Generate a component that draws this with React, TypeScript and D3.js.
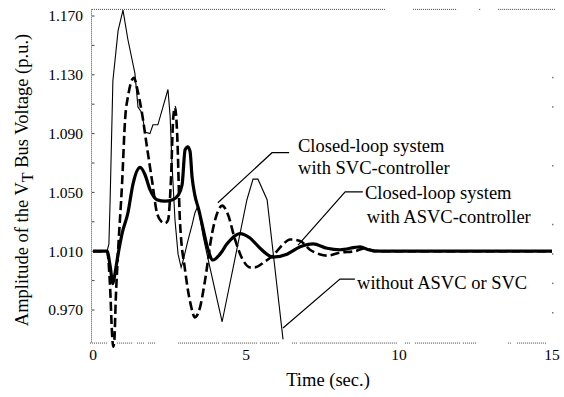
import React, { useEffect, useRef } from "react";
import * as d3 from "d3";

// Time axis (sec.) and voltage axis (p.u.)
const timeTicks = [0, 5, 10, 15];
const voltTicks = [0.97, 1.01, 1.05, 1.09, 1.13, 1.17];
const minorVoltTicks = [0.97, 0.99, 1.01, 1.03, 1.05, 1.07, 1.09, 1.11, 1.13, 1.15, 1.17];
const rightVoltDots = [0.97, 0.99, 1.01, 1.03, 1.07, 1.11, 1.13];

// Closed-loop system with ASVC-controller (thick solid)
const asvcSeries: [number, number][] = [
  [0, 1.01], [0.46, 1.01], [0.56, 1.0], [0.65, 0.988], [0.72, 0.995], [0.82, 1.008],
  [0.95, 1.022], [1.14, 1.036], [1.31, 1.056], [1.54, 1.067], [1.7, 1.062], [1.86, 1.052],
  [2.09, 1.045], [2.35, 1.044], [2.6, 1.045], [2.78, 1.048], [2.91, 1.055], [3.01, 1.079],
  [3.1, 1.081], [3.17, 1.078], [3.24, 1.06], [3.33, 1.048], [3.46, 1.038], [3.6, 1.025],
  [3.76, 1.011], [3.92, 1.004], [4.15, 1.008], [4.38, 1.015], [4.8, 1.022], [5.13, 1.019],
  [5.46, 1.012], [5.88, 1.006], [6.34, 1.008], [6.77, 1.013], [7.19, 1.015], [7.65, 1.012],
  [8.07, 1.011], [8.73, 1.013], [9.0, 1.011], [9.38, 1.01], [15, 1.01],
];

// Closed-loop system with SVC-controller (dashed)
const svcSeries: [number, number][] = [
  [0, 1.01], [0.46, 1.01], [0.56, 0.985], [0.62, 0.955], [0.66, 0.945], [0.7, 0.95],
  [0.74, 0.975], [0.82, 1.01], [0.95, 1.056], [1.05, 1.1], [1.15, 1.116], [1.34, 1.128],
  [1.45, 1.12], [1.6, 1.104], [1.77, 1.08], [1.93, 1.058], [2.09, 1.036], [2.24, 1.03],
  [2.35, 1.029], [2.45, 1.031], [2.55, 1.06], [2.62, 1.1], [2.68, 1.108], [2.75, 1.09],
  [2.84, 1.031], [3.01, 0.997], [3.2, 0.973], [3.33, 0.965], [3.5, 0.972], [3.66, 0.99],
  [3.89, 1.022], [4.1, 1.038], [4.22, 1.041], [4.41, 1.035], [4.64, 1.018], [4.9, 1.004],
  [5.13, 0.999], [5.29, 0.999], [5.62, 1.003], [5.88, 1.007], [6.18, 1.014], [6.44, 1.018],
  [6.77, 1.017], [7.09, 1.011], [7.4, 1.008], [7.65, 1.007], [8.07, 1.009], [8.56, 1.01],
  [8.89, 1.012], [9.2, 1.01], [15, 1.01],
];

// without ASVC or SVC (thin solid)
const noneSeries: [number, number][] = [
  [0, 1.01], [0.46, 1.01], [0.52, 1.015], [0.56, 1.045], [0.65, 1.126], [0.82, 1.16],
  [0.98, 1.174], [1.14, 1.154], [1.37, 1.131], [1.47, 1.108], [1.6, 1.104], [1.7, 1.091],
  [1.86, 1.09], [1.96, 1.096], [2.12, 1.096], [2.45, 1.12], [2.52, 1.102], [2.58, 1.07],
  [2.68, 1.031], [2.78, 1.008], [2.88, 0.999], [2.95, 1.004], [3.1, 1.017], [3.24, 1.028],
  [3.33, 1.036], [3.43, 1.041], [3.6, 1.02], [3.82, 0.999], [4.22, 0.962], [4.64, 1.005],
  [5.03, 1.045], [5.23, 1.059], [5.39, 1.059], [5.69, 1.045], [6.21, 0.95],
];

// Annotation labels: text lines and leader lines, in (time, voltage) units
const annoLabels = [
  { t: 6.7, v: 1.082, text: "Closed-loop system" },
  { t: 6.7, v: 1.067, text: "with SVC-controller" },
  { t: 8.89, v: 1.0496, text: "Closed-loop system" },
  { t: 8.95, v: 1.0333, text: "with ASVC-controller" },
  { t: 8.63, v: 0.989, text: "without ASVC or SVC" },
];
const annoLeaders: [number, number][][] = [
  [[4.08, 1.043], [5.85, 1.077], [6.41, 1.077]],
  [[6.7, 1.0142], [8.24, 1.0503], [8.82, 1.0503]],
  [[6.21, 0.9578], [8.07, 0.991], [8.56, 0.991]],
];

// Broken dotted frame, as time spans
const topFrame: [number, number][] = [[-0.03, 9.54], [10.46, 11.9], [12.62, 12.68], [13.24, 15.1]];
const bottomFrame: [number, number][] = [
  [-0.1, 0.49], [0.78, 1.31], [1.44, 1.7], [1.8, 2.03], [2.78, 4.15], [4.22, 5.36],
  [5.46, 6.11], [6.5, 6.67], [6.76, 9.93], [10.2, 10.36], [10.52, 11.99], [12.09, 12.55],
  [13.56, 13.69], [13.86, 14.84],
];

const App = () => {
  const svgRef = useRef<SVGSVGElement>(null);

  useEffect(() => {
    const svg = d3.select(svgRef.current);
    svg.selectAll("*").remove();

    const font = "'Liberation Serif', 'Times New Roman', serif";
    const x = d3.scaleLinear().domain([0, 15]).range([93, 552]);
    const y = d3.scaleLinear().domain([0.97, 1.17]).range([310, 16]);
    const vTop = 1.1745;
    const vBottom = 0.9475;

    svg.append("rect").attr("width", 564).attr("height", 397).attr("fill", "#fff");

    // frame
    const frame = svg.append("g").attr("stroke", "#444").attr("stroke-width", 1).attr("stroke-dasharray", "1,1");
    frame.append("line")
      .attr("x1", 91.5).attr("x2", 91.5)
      .attr("y1", y(vTop)).attr("y2", y(vBottom));
    frame.selectAll(".top").data(topFrame).enter().append("line")
      .attr("x1", d => x(d[0])).attr("x2", d => x(d[1]))
      .attr("y1", y(vTop)).attr("y2", y(vTop));
    frame.selectAll(".bot").data(bottomFrame).enter().append("line")
      .attr("x1", d => x(d[0])).attr("x2", d => x(d[1]))
      .attr("y1", y(vBottom)).attr("y2", y(vBottom));

    // ticks on left axis
    svg.append("g").selectAll("line").data(minorVoltTicks).enter().append("line")
      .attr("x1", 92).attr("x2", 94.5)
      .attr("y1", d => y(d)).attr("y2", d => y(d))
      .attr("stroke", "#444").attr("stroke-width", 1);

    // faint right border dots
    svg.append("g").selectAll("rect").data(rightVoltDots).enter().append("rect")
      .attr("x", x(15)).attr("y", d => y(d) + 2)
      .attr("width", 1.5).attr("height", 1.5).attr("fill", "#777");

    // tick labels
    svg.append("g").selectAll("text").data(voltTicks).enter().append("text")
      .attr("x", 83).attr("y", d => y(d)).attr("dy", "0.35em")
      .attr("text-anchor", "end")
      .style("font-family", font).style("font-size", "15.5px")
      .text(d => d3.format(".3f")(d));

    svg.append("g").selectAll("text").data(timeTicks).enter().append("text")
      .attr("x", d => x(d)).attr("y", 355).attr("dy", "0.35em")
      .attr("text-anchor", "middle")
      .style("font-family", font).style("font-size", "15.5px")
      .text(d => String(d));

    // axis titles
    svg.append("text")
      .attr("x", 328).attr("y", 380).attr("dy", "0.35em")
      .attr("text-anchor", "middle")
      .style("font-family", font).style("font-size", "18.5px")
      .text("Time (sec.)");

    const yt = svg.append("text")
      .attr("transform", "translate(22,180) rotate(-90)")
      .attr("dy", "0.35em")
      .attr("text-anchor", "middle")
      .style("font-family", font).style("font-size", "18.5px");
    yt.append("tspan").text("Amplitude of the V");
    yt.append("tspan").attr("dy", "0.3em").style("font-size", "16px").text("T");
    yt.append("tspan").attr("dy", "-0.3em").text(" Bus Voltage (p.u.)");

    // series
    const smooth = d3.line<[number, number]>()
      .x(d => x(d[0])).y(d => y(d[1]))
      .curve(d3.curveMonotoneX);
    const straight = d3.line<[number, number]>()
      .x(d => x(d[0])).y(d => y(d[1]));

    svg.append("path").attr("d", straight(noneSeries))
      .attr("fill", "none").attr("stroke", "#000").attr("stroke-width", 1.1);
    svg.append("path").attr("d", smooth(svcSeries))
      .attr("fill", "none").attr("stroke", "#000").attr("stroke-width", 2.6)
      .attr("stroke-dasharray", "9,4");
    svg.append("path").attr("d", smooth(asvcSeries))
      .attr("fill", "none").attr("stroke", "#000").attr("stroke-width", 3.2);

    // annotations
    svg.append("g").selectAll("path").data(annoLeaders).enter().append("path")
      .attr("d", d => straight(d))
      .attr("fill", "none").attr("stroke", "#000").attr("stroke-width", 1.2);

    svg.append("g").selectAll("text").data(annoLabels).enter().append("text")
      .attr("x", d => x(d.t)).attr("y", d => y(d.v)).attr("dy", "0.35em")
      .style("font-family", font).style("font-size", "18.5px")
      .text(d => d.text);
  }, []);

  return (
    <svg
      ref={svgRef}
      width={564}
      height={397}
      style={{ position: "absolute", left: 0, top: 0 }}
    />
  );
};

export default App;
